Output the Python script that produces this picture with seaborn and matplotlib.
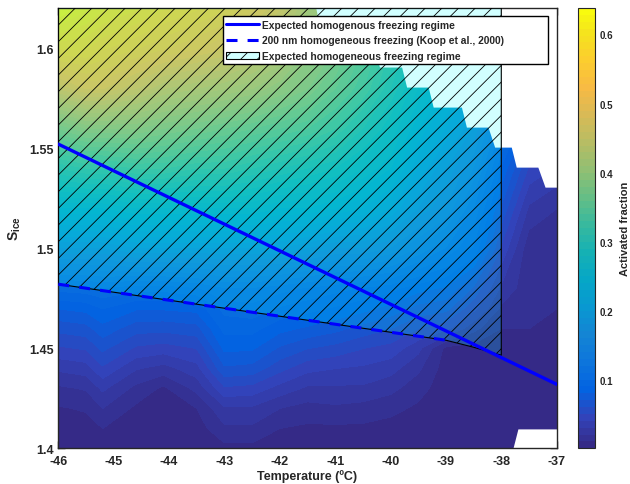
import numpy as np
import matplotlib
matplotlib.use("Agg")
import matplotlib.pyplot as plt
from matplotlib.colors import LinearSegmentedColormap
from matplotlib.lines import Line2D
from matplotlib.patches import Patch
import seaborn as sns

# grid of the measurements
temps = [-46, -45.5, -45.2, -44.6, -44.1, -43.5, -43, -42.5, -42, -41.5, -41,
         -40.5, -40, -39.5, -39, -38.5, -38, -37.5, -37]
sice = [1.40, 1.41, 1.42, 1.43, 1.44, 1.45, 1.46, 1.47, 1.48, 1.50, 1.52,
        1.54, 1.56, 1.58, 1.60, 1.62]

# activated fraction, one list per temperature (bottom -> top in S_ice)
af = [
    [0.004, 0.007, 0.011, 0.020, 0.034, 0.050, 0.065, 0.082, 0.105, 0.18, 0.25, 0.32, 0.40, 0.50, 0.57, 0.62],
    [0.004, 0.008, 0.013, 0.023, 0.037, 0.053, 0.068, 0.085, 0.107, 0.18, 0.25, 0.33, 0.42, 0.52, 0.57, 0.60],
    [0.007, 0.012, 0.022, 0.034, 0.050, 0.064, 0.078, 0.092, 0.110, 0.18, 0.25, 0.33, 0.42, 0.52, 0.56, 0.59],
    [0.004, 0.007, 0.010, 0.019, 0.033, 0.050, 0.066, 0.083, 0.105, 0.19, 0.26, 0.34, 0.42, 0.50, 0.55, 0.58],
    [0.003, 0.005, 0.007, 0.010, 0.028, 0.047, 0.065, 0.083, 0.105, 0.19, 0.26, 0.34, 0.41, 0.48, 0.54, 0.57],
    [0.004, 0.007, 0.012, 0.025, 0.038, 0.052, 0.068, 0.085, 0.110, 0.19, 0.26, 0.33, 0.40, 0.47, 0.53, 0.56],
    [0.009, 0.020, 0.030, 0.050, 0.070, 0.084, 0.095, 0.105, 0.120, 0.19, 0.26, 0.33, 0.39, 0.46, 0.52, 0.55],
    [0.009, 0.020, 0.030, 0.048, 0.068, 0.083, 0.095, 0.108, 0.120, 0.19, 0.26, 0.32, 0.38, 0.45, 0.50, 0.53],
    [0.006, 0.012, 0.022, 0.038, 0.055, 0.070, 0.085, 0.100, 0.115, 0.19, 0.25, 0.31, 0.37, 0.43, 0.48, 0.51],
    [0.004, 0.010, 0.018, 0.030, 0.045, 0.062, 0.080, 0.095, 0.110, 0.18, 0.25, 0.30, 0.36, 0.41, 0.44, 0.46],
    [0.004, 0.010, 0.020, 0.030, 0.042, 0.058, 0.075, 0.090, 0.105, 0.17, 0.24, 0.29, 0.34, 0.38, 0.41, 0.43],
    [0.004, 0.010, 0.018, 0.030, 0.040, 0.052, 0.068, 0.085, 0.100, 0.17, 0.23, 0.27, 0.31, 0.35, 0.37, 0.39],
    [0.004, 0.008, 0.015, 0.025, 0.036, 0.048, 0.062, 0.078, 0.095, 0.16, 0.21, 0.25, 0.28, 0.31, 0.33, 0.35],
    [0.003, 0.006, 0.010, 0.016, 0.024, 0.035, 0.052, 0.068, 0.085, 0.14, 0.18, 0.21, 0.24, 0.27, 0.29, 0.30],
    [0.003, 0.004, 0.005, 0.006, 0.007, 0.009, 0.045, 0.065, 0.080, 0.12, 0.16, 0.18, 0.21, 0.24, 0.26, 0.27],
    [0.003, 0.004, 0.004, 0.005, 0.005, 0.008, 0.025, 0.045, 0.060, 0.10, 0.12, 0.15, 0.18, 0.21, 0.23, 0.24],
    [0.003, 0.004, 0.004, 0.005, 0.005, 0.006, 0.012, 0.020, 0.030, 0.05, 0.07, 0.09, 0.12, 0.15, 0.17, 0.18],
    [0.003, 0.004, 0.004, 0.005, 0.005, 0.006, 0.012, 0.015, 0.015, 0.015, 0.03, 0.05, 0.07, 0.09, 0.10, 0.11],
    [0.003, 0.004, 0.004, 0.005, 0.005, 0.006, 0.010, 0.012, 0.013, 0.013, 0.022, 0.04, 0.05, 0.06, 0.07, 0.08],
]

# upper limit of the measured region (no data above it)
edge_t = [-41.35, -41.2, -40.3, -40.2, -39.8, -39.71, -39.32, -39.23, -38.72,
          -38.63, -38.24, -38.12, -37.82, -37.73, -37.34, -37.21, -37.0]
edge_s = [1.62, 1.60, 1.60, 1.5905, 1.5905, 1.5805, 1.5805, 1.5705, 1.5705,
          1.5605, 1.5605, 1.5505, 1.5505, 1.5405, 1.5405, 1.5305, 1.5305]
# lower right corner without data
low_t = [-37.79, -37.70, -37.0]
low_s = [1.40, 1.4097, 1.4097]

# expected homogenous freezing line
expect_t = [-46, -37]
expect_s = [1.552, 1.432]

# Koop et al. (2000), 200 nm
koop_t = [-46, -45, -44, -43, -42, -41, -40, -39]
koop_s = [1.482, 1.478, 1.474, 1.470, 1.466, 1.462, 1.458, 1.454]
# hatched regime boundary continues to -38
regime_t = koop_t + [-38.5, -38]
regime_s = koop_s + [1.4505, 1.4465]

parula = [(0.2081, 0.1663, 0.5292), (0.1959, 0.2645, 0.7279), (0.0117, 0.3875, 0.8820),
          (0.0498, 0.4586, 0.8641), (0.0793, 0.5200, 0.8312), (0.0343, 0.5966, 0.8199),
          (0.0228, 0.6535, 0.7768), (0.0843, 0.6928, 0.7062), (0.2178, 0.7250, 0.6193),
          (0.3953, 0.7459, 0.5244), (0.5709, 0.7485, 0.4494), (0.7184, 0.7411, 0.3905),
          (0.8507, 0.7299, 0.3360), (0.9739, 0.7314, 0.2666), (0.9880, 0.8066, 0.1794),
          (0.9589, 0.8949, 0.1132), (0.9763, 0.9831, 0.0538)]
pos = [0, 4, 8, 12, 16, 20, 24, 28, 32, 36, 40, 44, 48, 52, 56, 60, 63]
cmap = LinearSegmentedColormap.from_list("parula", [(p / 63, c) for p, c in zip(pos, parula)], N=64)

sns.set_style("ticks")
plt.rcParams["font.family"] = ["Liberation Sans", "DejaVu Sans"]
plt.rcParams["font.weight"] = "bold"
plt.rcParams["axes.unicode_minus"] = False
plt.rcParams["mathtext.fontset"] = "custom"
plt.rcParams["mathtext.bf"] = "Liberation Sans:bold"
plt.rcParams["mathtext.rm"] = "Liberation Sans"
plt.rcParams["hatch.linewidth"] = 0.6
plt.rcParams["hatch.color"] = "black"

fig = plt.figure(figsize=(6.3, 4.85), dpi=100)
ax = fig.add_axes([0.0925, 0.0736, 0.7911, 0.9078])
cax = fig.add_axes([0.917, 0.0736, 0.0275, 0.9078])

Z = np.array(af).T
levels = np.linspace(0.002, 0.638, 65)
cs = ax.contourf(temps, sice, Z, levels=levels, cmap=cmap, zorder=1)

ax.fill_between(edge_t, edge_s, 1.62, color="white", lw=0, zorder=2)
ax.fill_between(low_t, 1.40, low_s, color="white", lw=0, zorder=2)

# hatched regime: light cyan tint + hatch lines
ax.fill_between(regime_t, regime_s, 1.62, color=(0, 1, 1), alpha=0.18, lw=0, zorder=3)
ax.fill_between(regime_t, regime_s, 1.62, facecolor="none", edgecolor="black",
                hatch="//", lw=0.8, zorder=4)

sns.lineplot(x=expect_t, y=expect_s, ax=ax, color="blue", lw=2.4, zorder=5)
sns.lineplot(x=koop_t, y=koop_s, ax=ax, color="blue", lw=2.2,
             linestyle=(0, (3.6, 3.3)), zorder=5)

ax.set_xlim(-46, -37)
ax.set_ylim(1.40, 1.62)
ax.set_xticks(np.arange(-46, -36, 1))
ax.set_yticks([1.4, 1.45, 1.5, 1.55, 1.6])
ax.set_yticklabels(["1.4", "1.45", "1.5", "1.55", "1.6"])
ax.tick_params(direction="in", top=True, right=True, length=5, width=1,
               labelsize=9, colors="#262626")
ax.tick_params(axis="x", pad=5)
for sp in ax.spines.values():
    sp.set_linewidth(1)
    sp.set_color("#262626")
ax.set_xlabel("Temperature (ºC)", fontsize=9, fontweight="bold", labelpad=1)
ax.set_ylabel(r"S$_{\mathbf{ice}}$", fontsize=10, fontweight="bold")

handles = [Line2D([], [], color="blue", lw=2.2),
           Line2D([], [], color="blue", lw=2.2, linestyle=(0, (3.6, 3.3))),
           Patch(facecolor=(0.82, 1, 1), edgecolor="black", hatch="//", lw=0.8)]
labels = ["Expected homogenous freezing regime",
          "200 nm homogeneous freezing (Koop et al., 2000)" + " " * 14,
          "Expected homogeneous freezing regime"]
leg = ax.legend(handles, labels, loc="upper right", bbox_to_anchor=(0.983, 0.982),
                borderaxespad=0, fancybox=False, framealpha=1, edgecolor="black",
                fontsize=7.4, handlelength=3.2, labelspacing=0.55, handletextpad=0.3,
                borderpad=0.35)
leg.get_frame().set_linewidth(1)
leg.set_zorder(10)

cb = fig.colorbar(cs, cax=cax)
cb.set_ticks([0.1, 0.2, 0.3, 0.4, 0.5, 0.6])
cb.ax.tick_params(direction="in", length=4, width=1, labelsize=7, colors="#262626")
cb.outline.set_linewidth(0.8)
cb.set_label("Activated fraction", fontsize=8, fontweight="bold", labelpad=5)

fig.savefig("out.png", dpi=100)
